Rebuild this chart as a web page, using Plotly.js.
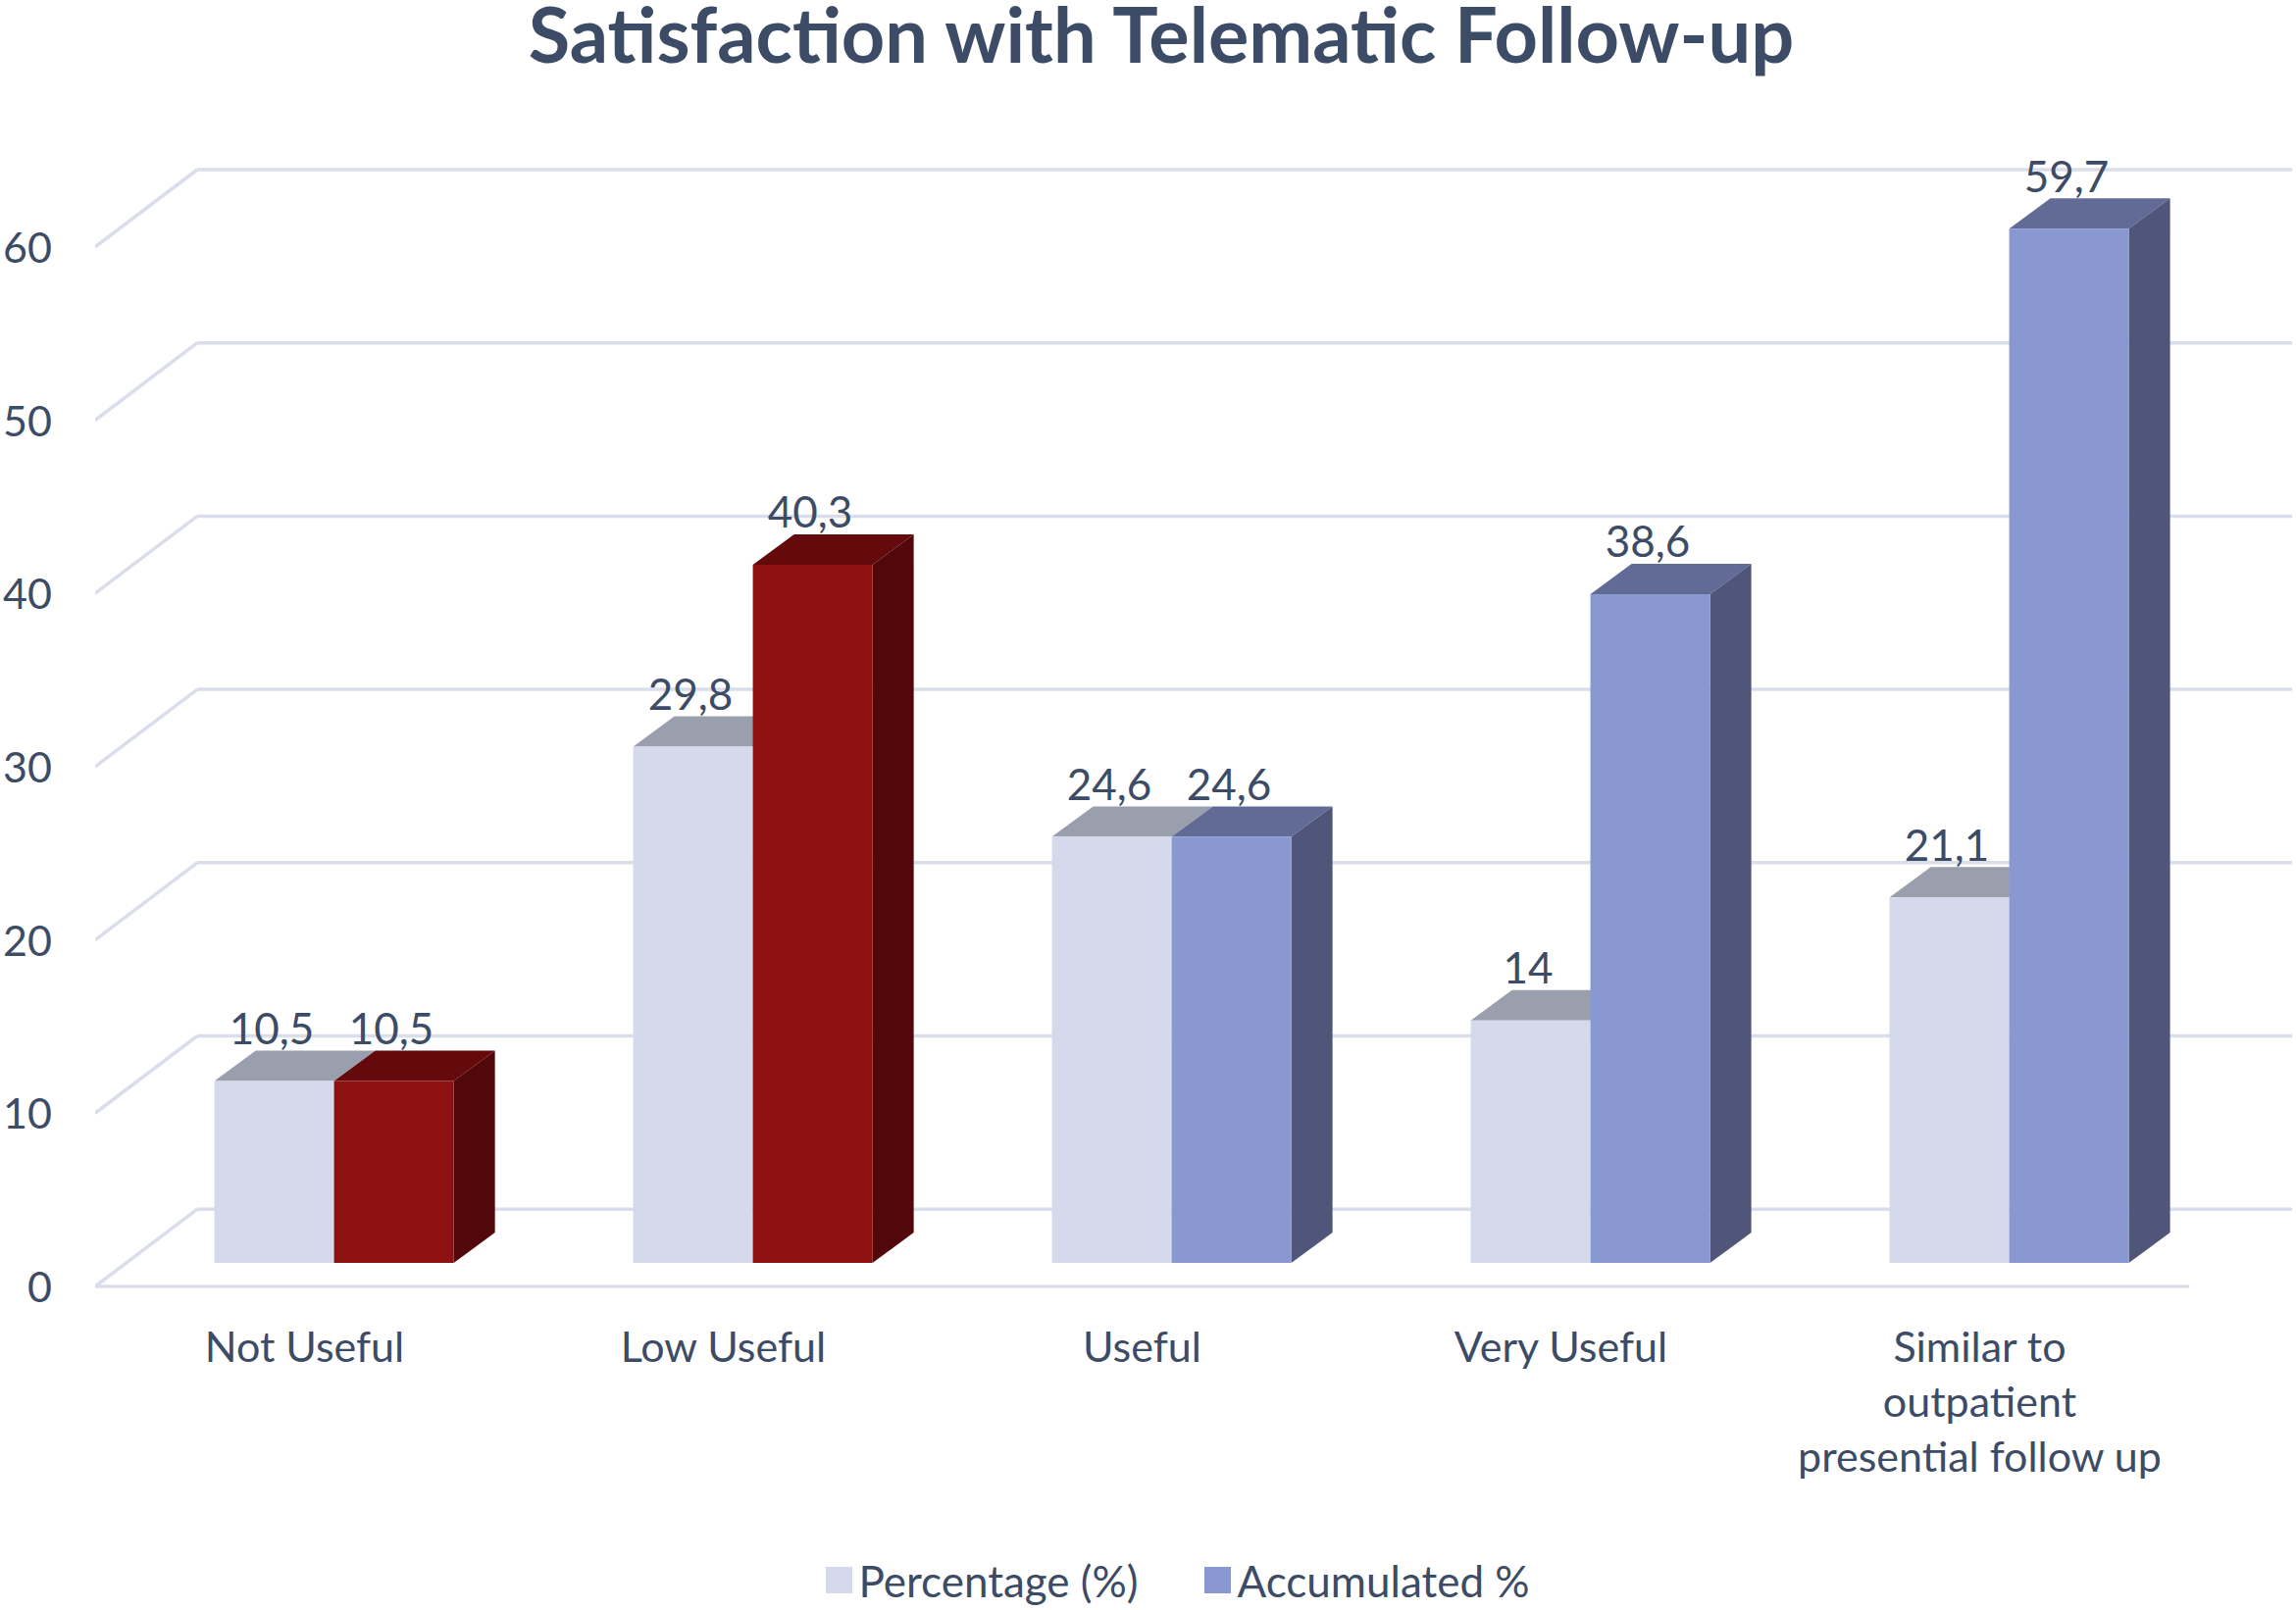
<!DOCTYPE html>
<html><head><meta charset="utf-8">
<script src="https://cdn.plot.ly/plotly-3.0.1.min.js"></script>
<style>html,body{margin:0;padding:0;background:#fff}</style>
</head><body><div id="chart" style="width:2341px;height:1642px"></div>
<script>
const categories = ["Not Useful","Low Useful","Useful","Very Useful","Similar to<br>outpatient<br>presential follow up"];
const percentage = [10.5,29.8,24.6,14,21.1];
const accumulated = [10.5,40.3,24.6,38.6,59.7];
const yTicks = [0,10,20,30,40,50,60];

const RED = {front:"#8E1010", top:"#640A0C", side:"#52080A"};
const BLUE = {front:"#8A98D2", top:"#616B96", side:"#505679"};
const LIGHT = {front:"#D4D9EC", top:"#9A9FAE"};
const accStyle = [RED,RED,BLUE,BLUE,BLUE];
const TEXT = "#3D4C66", GRID = "#DADDEA", FONT = "Lato, sans-serif";

// 3D-look geometry, in axis units
const barW = 0.2857, groupShift = 0.0705;
const floorLift = 1.356, depthX = 0.0985, depthY = 1.75;
const wallLift = 4.46, wallX = -0.256, xLeft = -0.5, xEnd = 4.5, xRight = 4.746;
const labelLift = 2.75, labelShift = -0.006;

const xs = categories.map((_,i)=>i);
const shapes = [];
const seg = (x0,y0,x1,y1,color) => shapes.push({type:"line",xref:"x",yref:"y",x0,y0,x1,y1,layer:"below",line:{color,width:3.5}});
const poly = (pts,color) => shapes.push({type:"path",xref:"x",yref:"y",layer:"below",
  path:"M"+pts.map(p=>p[0]+","+p[1]).join("L")+"Z",fillcolor:color,line:{width:0}});

yTicks.forEach(v=>{
  seg(wallX,v+wallLift,xRight,v+wallLift,GRID);
  seg(xLeft,v,wallX,v+wallLift,GRID);
});
seg(xLeft,0,xEnd,0,GRID);

xs.forEach(i=>{
  const l1 = i+groupShift-barW, r = i+groupShift, r2 = r+barW;
  const t1 = floorLift+percentage[i], t2 = floorLift+accumulated[i];
  poly([[l1,t1],[r,t1],[r+depthX,t1+depthY],[l1+depthX,t1+depthY]],LIGHT.top);
  const s = accStyle[i];
  poly([[r,t2],[r2,t2],[r2+depthX,t2+depthY],[r+depthX,t2+depthY]],s.top);
  poly([[r2,floorLift],[r2+depthX,floorLift+depthY],[r2+depthX,t2+depthY],[r2,t2]],s.side);
});

const fmt = v => String(v).replace(".",",");
const traces = [
  {type:"bar",name:"Percentage (%)",x:xs,y:percentage,base:floorLift,width:barW,offset:groupShift-barW,
   marker:{color:LIGHT.front,line:{width:0}},hoverinfo:"y"},
  {type:"bar",name:"Accumulated %",x:xs,y:accumulated,base:floorLift,width:barW,offset:groupShift,
   marker:{color:accStyle.map(s=>s.front),line:{width:0}},hoverinfo:"y"},
  {type:"scatter",mode:"text",showlegend:false,hoverinfo:"skip",
   x:xs.map(i=>i+groupShift-barW/2+labelShift),y:percentage.map(v=>v+floorLift+labelLift),
   text:percentage.map(fmt),textposition:"middle center",textfont:{family:FONT,size:44,color:TEXT},cliponaxis:false},
  {type:"scatter",mode:"text",showlegend:false,hoverinfo:"skip",
   x:xs.map(i=>i+groupShift+barW/2+labelShift),y:accumulated.map(v=>v+floorLift+labelLift),
   text:accumulated.map(fmt),textposition:"middle center",textfont:{family:FONT,size:44,color:TEXT},cliponaxis:false}
];

const layout = {
  width:2341,height:1642,autosize:false,paper_bgcolor:"#fff",plot_bgcolor:"rgba(0,0,0,0)",
  barmode:"overlay",
  margin:{l:97,r:4,t:100,b:326,pad:0},
  font:{family:FONT,color:TEXT},
  title:{text:"<b>Satisfaction with Telematic Follow-up</b>",x:1184/2341,xanchor:"center",xref:"container",
         y:1-37/1642,yanchor:"middle",yref:"container",font:{family:FONT,size:77.5,color:TEXT}},
  xaxis:{type:"linear",range:[xLeft,xRight],tickmode:"array",tickvals:xs,ticktext:categories,
         showgrid:false,zeroline:false,showline:false,ticks:"",tickfont:{family:FONT,size:43,color:TEXT},
         ticklabelstandoff:29,automargin:false,tickangle:0},
  yaxis:{type:"linear",range:[-0.226,68.59],tickmode:"array",tickvals:yTicks,ticktext:yTicks.map(String),
         showgrid:false,zeroline:false,showline:false,ticks:"",tickfont:{family:FONT,size:43,color:TEXT},
         ticklabelstandoff:43,ticklabelshift:1,automargin:false},
  legend:{orientation:"h",xref:"container",x:835.5/2341,xanchor:"left",y:1-1612/1642,yref:"container",yanchor:"middle",
          font:{family:FONT,size:44,color:TEXT},traceorder:"normal",itemwidth:30,entrywidth:341,entrywidthmode:"pixels",
          itemclick:false,itemdoubleclick:false},
  shapes,showlegend:true
};
Plotly.newPlot("chart",traces,layout,{displayModeBar:false,responsive:false}).then(()=>{
  const swatches = document.querySelectorAll(".legend .legendpoints path");
  swatches.forEach(p=>p.setAttribute("d","M13.5,13.5H-13.5V-13.5H13.5Z"));
  if (swatches[1]) swatches[1].style.fill = BLUE.front;
});
</script></body></html>
